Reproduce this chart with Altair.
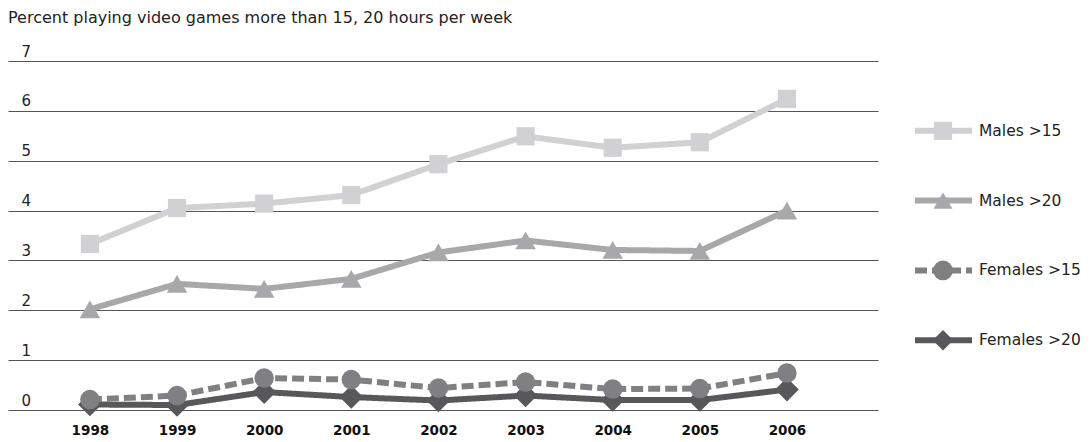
import altair as alt
import pandas as pd

FONT = "DejaVu Sans"

years = [1998, 1999, 2000, 2001, 2002, 2003, 2004, 2005, 2006]
series = ["Males >15", "Males >20", "Females >15", "Females >20"]
males_15 = [3.33, 4.05, 4.14, 4.31, 4.93, 5.49, 5.26, 5.37, 6.24]
males_20 = [2.02, 2.53, 2.43, 2.63, 3.16, 3.40, 3.21, 3.19, 4.00]
females_15 = [0.21, 0.29, 0.64, 0.61, 0.44, 0.56, 0.42, 0.43, 0.74]
females_20 = [0.11, 0.10, 0.36, 0.26, 0.19, 0.29, 0.20, 0.20, 0.41]
y_ticks = [0, 1, 2, 3, 4, 5, 6, 7]

colors = ["#d1d1d3", "#a8a8ab", "#808083", "#58585b"]
shapes = ["square", "triangle-up", "circle", "diamond"]
sizes = [330, 420, 380, 560]
dashes = [[1, 0], [1, 0], [12, 5], [1, 0]]

values_by_series = [males_15, males_20, females_15, females_20]
rows = []
for s, vals in zip(series, values_by_series):
    for yr, v in zip(years, vals):
        rows.append({"series": s, "year": yr, "value": v})
df = pd.DataFrame(rows)

x_enc = alt.X(
    "year:Q",
    scale=alt.Scale(domain=[1997.06, 2007.045], nice=False, zero=False),
    axis=alt.Axis(values=years, format="d", title=None, domain=False, ticks=False,
                  tickSize=0, grid=False, labelFont=FONT, labelFontWeight="bold",
                  labelFontSize=13.5, labelColor="#111111", labelPadding=13),
)
y_enc = alt.Y(
    "value:Q",
    scale=alt.Scale(domain=[0, 7], nice=False, zero=True),
    axis=alt.Axis(values=y_ticks, title=None, domain=False, ticks=False, tickSize=0,
                  grid=True, gridColor="#555555", gridWidth=1,
                  labelAlign="left", labelBaseline="alphabetic", labelPadding=-13,
                  labelOffset=-5, labelFontSize=15, labelColor="#222222", labelFont=FONT),
)

layers = []
for idx in [3, 2, 1, 0]:
    s = series[idx]
    sub = alt.Chart(df).transform_filter(alt.datum.series == s)
    line = sub.mark_line(color=colors[idx], strokeWidth=6, strokeDash=dashes[idx]).encode(x=x_enc, y=y_enc)
    pts = sub.mark_point(filled=True, shape=shapes[idx], size=sizes[idx], color=colors[idx], opacity=1).encode(x=x_enc, y=y_enc)
    layers += [line, pts]

main = alt.layer(*layers).properties(width=870, height=349)

leg_df = pd.DataFrame({"series": series})
leg_base = alt.Chart(leg_df)
leg_y = alt.Y("series:N", sort=series, scale=alt.Scale(type="point", padding=1.875), axis=None)
col = alt.Color("series:N", scale=alt.Scale(domain=series, range=colors), legend=None)

leg_rule = leg_base.mark_rule(strokeWidth=6).encode(
    x=alt.value(37), x2=alt.value(94), y=leg_y, color=col,
    strokeDash=alt.StrokeDash("series:N", scale=alt.Scale(domain=series, range=dashes), legend=None),
)
leg_pts = leg_base.mark_point(filled=True, opacity=1).encode(
    x=alt.value(65), y=leg_y, color=col,
    shape=alt.Shape("series:N", scale=alt.Scale(domain=series, range=shapes), legend=None),
    size=alt.Size("series:N", scale=alt.Scale(domain=series, range=sizes), legend=None),
)
leg_txt = leg_base.mark_text(align="left", baseline="middle", fontSize=15.5, font=FONT, color="#222222").encode(
    x=alt.value(101), y=leg_y, text="series:N"
)
legend = alt.layer(leg_rule, leg_pts, leg_txt).properties(width=180, height=349)

chart = alt.hconcat(main, legend, spacing=0).properties(
    title=alt.Title("Percent playing video games more than 15, 20 hours per week",
                    anchor="start", font=FONT, fontSize=16, fontWeight="normal",
                    color="#222222", offset=18),
    bounds="flush",
    padding={"left": 0, "top": 2, "right": 0, "bottom": 0},
).configure_view(stroke=None)

chart.save("out.html", embed_options={"renderer": "svg", "actions": False})
